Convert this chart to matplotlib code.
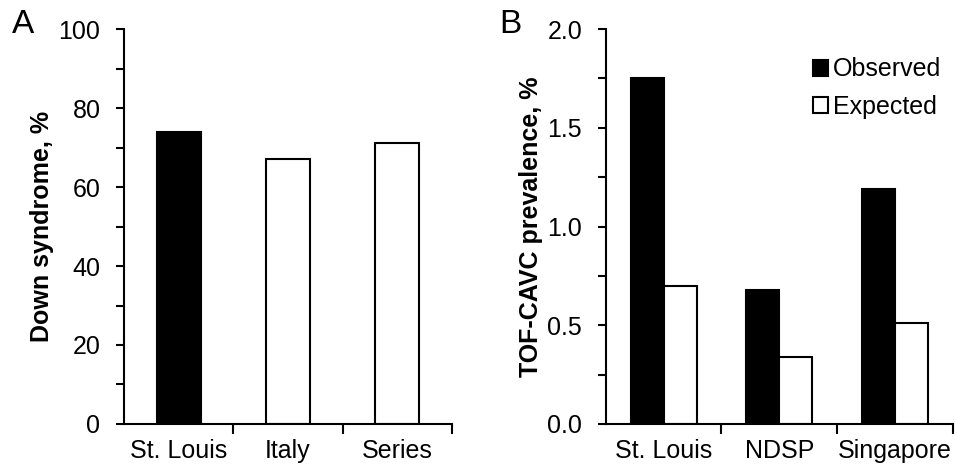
import matplotlib.pyplot as plt
import numpy as np
from matplotlib.ticker import MultipleLocator

plt.rcParams['font.family'] = ['Liberation Sans', 'DejaVu Sans']

# panel A
a_categories = ['St. Louis', 'Italy', 'Series']
a_values = [73.9, 67.1, 71.1]
a_colors = ['black', 'white', 'white']

# panel B
b_categories = ['St. Louis', 'NDSP', 'Singapore']
b_observed = [1.75, 0.68, 1.19]
b_expected = [0.70, 0.34, 0.51]


def style_axes(ax):
    for s in ['top', 'right']:
        ax.spines[s].set_visible(False)
    for s in ['left', 'bottom']:
        ax.spines[s].set_linewidth(1.5)
    ax.tick_params(axis='y', which='both', direction='out', width=1.5, labelsize=18, pad=11)
    ax.tick_params(axis='y', which='major', length=6)
    ax.tick_params(axis='y', which='minor', length=6)
    ax.tick_params(axis='x', which='major', length=0, labelsize=18, pad=11)
    ax.tick_params(axis='x', which='minor', length=7, width=1.5, direction='out')
    ax.set_xlim(-0.5, 2.5)
    ax.set_xticks([0.5, 1.5, 2.5], minor=True)


fig = plt.figure(figsize=(9.57, 4.71), dpi=100)
ax_a = fig.add_axes([0.1296, 0.0998, 0.3427, 0.8386])
ax_b = fig.add_axes([0.6329, 0.0998, 0.3629, 0.8386])

x = np.arange(len(a_categories))
ax_a.bar(x, a_values, width=0.4, color=a_colors, edgecolor='black', linewidth=1.5)
ax_a.set_ylim(0, 100)
ax_a.yaxis.set_major_locator(MultipleLocator(20))
ax_a.yaxis.set_minor_locator(MultipleLocator(10))
ax_a.set_xticks(x)
ax_a.set_xticklabels(a_categories)
ax_a.set_ylabel('Down syndrome, %', fontsize=18, fontweight='bold', labelpad=3)
style_axes(ax_a)

x = np.arange(len(b_categories))
w = 0.285
ax_b.bar(x - w / 2, b_observed, width=w, color='black', edgecolor='black', linewidth=1.5, label='Observed')
ax_b.bar(x + w / 2, b_expected, width=w, color='white', edgecolor='black', linewidth=1.5, label='Expected')
ax_b.set_ylim(0, 2.0)
ax_b.yaxis.set_major_locator(MultipleLocator(0.5))
ax_b.yaxis.set_minor_locator(MultipleLocator(0.25))
ax_b.yaxis.set_major_formatter(plt.FormatStrFormatter('%.1f'))
ax_b.set_xticks(x)
ax_b.set_xticklabels(b_categories)
ax_b.set_ylabel('TOF-CAVC prevalence, %', fontsize=18, fontweight='bold', labelpad=3)
style_axes(ax_b)
ax_b.legend(loc='upper right', bbox_to_anchor=(1.03, 0.985), frameon=False, fontsize=18,
            handlelength=0.6, handleheight=0.6, handletextpad=0.2, labelspacing=0.55)

fig.text(0.012, 0.93, 'A', fontsize=24)
fig.text(0.522, 0.93, 'B', fontsize=24)

fig.savefig('out.png', dpi=100, facecolor='white')
